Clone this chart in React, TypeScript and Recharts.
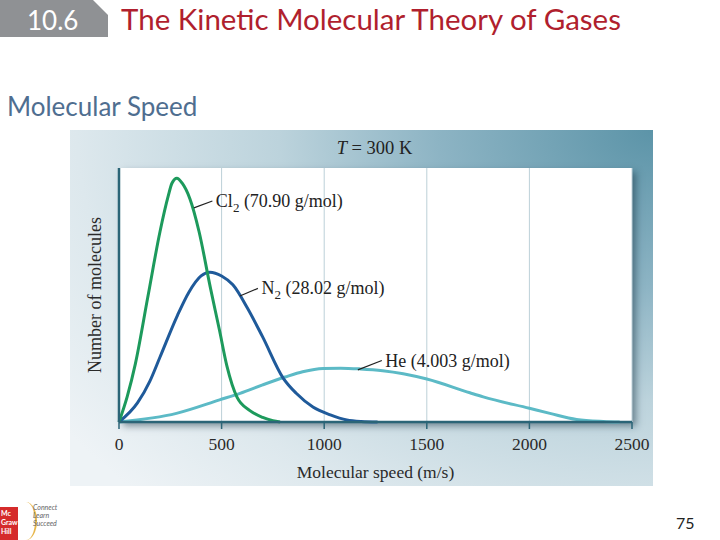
import React from "react";
import { LineChart, Line, XAxis, YAxis, CartesianGrid, ReferenceLine, ReferenceDot } from "recharts";

const speedTicks = [0, 500, 1000, 1500, 2000, 2500];

// Cl2 (70.90 g/mol)
const cl2Speeds = [0, 40, 80, 140, 200, 240, 258, 282, 308, 345, 390, 445, 490, 526, 575, 638, 700, 750, 785];
const cl2Counts = [0, 10, 23, 49, 75, 89, 94, 96, 94, 88, 75, 53, 36, 22, 9.8, 4.5, 1.8, 0.5, 0];

// N2 (28.02 g/mol)
const n2Speeds = [0, 90, 150, 200, 285, 340, 400, 443, 500, 555, 625, 700, 800, 865, 945, 1030, 1110, 1180, 1260];
const n2Counts = [0, 7.5, 16, 25.6, 42, 51, 57.5, 59, 57.5, 54, 45, 33.5, 17.3, 11.2, 5.9, 2.8, 0.8, 0.2, 0];

// He (4.003 g/mol)
const heSpeeds = [0, 280, 490, 590, 700, 810, 895, 995, 1080, 1175, 1285, 1385, 1500, 1710, 1775, 2000, 2100, 2230, 2360, 2440];
const heCounts = [0, 3.4, 8.7, 11.3, 14.6, 17.7, 19.8, 21.1, 21.2, 20.9, 20.2, 19, 16.9, 11.5, 9.9, 5.4, 3.4, 1, 0.2, 0];

const toPoints = (speeds: number[], counts: number[]) =>
  speeds.map((speed, i) => ({ speed, count: counts[i] }));

const cl2Data = toPoints(cl2Speeds, cl2Counts);
const n2Data = toPoints(n2Speeds, n2Counts);
const heData = toPoints(heSpeeds, heCounts);

// leader line from curve to label, label anchor
const annotations = [
  { name: "Cl", sub: "2", rest: " (70.90 g/mol)", from: [365, 84.3], to: [455, 87] },
  { name: "N", sub: "2", rest: " (28.02 g/mol)", from: [589, 49.6], to: [677, 52.6] },
  { name: "He", sub: "", rest: " (4.003 g/mol)", from: [1164, 20.5], to: [1281, 24.2] },
];

const SERIF = "'Liberation Serif', 'DejaVu Serif', serif";
const SANS = "Lato, 'Open Sans', sans-serif";
const AXIS = "#2b6577";

const annotLabel = (name: string, sub: string, rest: string) => (props: any) => {
  const vb = props.viewBox || { x: 0, y: 0, width: 0, height: 0 };
  const x = vb.x + vb.width + 3;
  const y = vb.y + vb.height / 2 + 6;
  return (
    <text x={x} y={y} fontFamily={SERIF} fontSize={18} fill="#222">
      {name}
      {sub ? (
        <tspan dy={5} fontSize={13}>
          {sub}
        </tspan>
      ) : null}
      <tspan dy={sub ? -5 : 0}>{rest}</tspan>
    </text>
  );
};

export default function App() {
  return (
    <div style={{ position: "fixed", left: 0, top: 0, width: 720, height: 540, background: "#fff", overflow: "hidden" }}>
      {/* section tag */}
      <div
        style={{
          position: "absolute", left: 0, top: 0, width: 108, height: 37, background: "#8f9194",
          clipPath: "polygon(0 0, 93px 0, 108px 15px, 108px 100%, 0 100%)",
        }}
      />
      <div style={{ position: "absolute", left: 27, top: 2, fontFamily: SANS, fontSize: 26, color: "#fff", lineHeight: "36px" }}>
        10.6
      </div>
      <div style={{ position: "absolute", left: 121, top: 1, fontFamily: SANS, fontSize: 29.5, color: "#b01f2e", lineHeight: "36px", whiteSpace: "nowrap" }}>
        The Kinetic Molecular Theory of Gases
      </div>
      <div style={{ position: "absolute", left: 7, top: 89, fontFamily: SANS, fontSize: 26, color: "#4f6e90", lineHeight: "34px", whiteSpace: "nowrap" }}>
        Molecular Speed
      </div>

      {/* chart panel */}
      <div
        style={{
          position: "absolute", left: 70, top: 130, width: 583, height: 356,
          background: "radial-gradient(720px 520px at 100% 0%, #5c94a8 0%, #8db4c4 30%, #bcd3dc 52%, #dde8ed 80%, #eef3f6 100%)",
        }}
      >
        <div
          style={{
            position: "absolute", left: 49, top: 38, width: 513, height: 254, background: "#fff",
            boxShadow: "4px 4px 7px rgba(20,50,65,0.5)",
          }}
        />
        <div style={{ position: "absolute", left: 0, top: 8, width: 583, textAlign: "center", fontFamily: SERIF, fontSize: 18.5, color: "#222", paddingLeft: 26, boxSizing: "border-box" }}>
          <i>T</i> = 300 K
        </div>
        <div style={{ position: "absolute", left: 0, top: 0 }}>
          <LineChart width={583} height={356} margin={{ top: 38, right: 21, bottom: 8, left: 1 }}>
            <CartesianGrid horizontal={false} stroke="#bcd0d8" strokeWidth={1} />
            <XAxis
              type="number"
              dataKey="speed"
              domain={[0, 2500]}
              ticks={speedTicks}
              height={56}
              tickSize={7}
              tickMargin={9}
              axisLine={{ stroke: AXIS, strokeWidth: 2.5 }}
              tickLine={{ stroke: AXIS, strokeWidth: 1.5 }}
              tick={{ fill: "#2a2a2a", fontSize: 17.5, fontFamily: SERIF }}
              label={{ value: "Molecular speed (m/s)", position: "insideBottom", offset: 0, fill: "#2a2a2a", fontSize: 17.5, fontFamily: SERIF }}
            />
            <YAxis
              type="number"
              domain={[0, 100]}
              width={48}
              tick={false}
              tickLine={false}
              axisLine={{ stroke: AXIS, strokeWidth: 2.5 }}
              label={{ value: "Number of molecules", angle: -90, position: "center", fill: "#2a2a2a", fontSize: 18, fontFamily: SERIF }}
            />
            <Line data={heData} dataKey="count" type="monotone" stroke="#5cbac6" strokeWidth={3} dot={false} isAnimationActive={false} />
            <Line data={n2Data} dataKey="count" type="monotone" stroke="#1f5a9a" strokeWidth={3} dot={false} isAnimationActive={false} />
            <Line data={cl2Data} dataKey="count" type="monotone" stroke="#1d9a5c" strokeWidth={3} dot={false} isAnimationActive={false} />
            {annotations.map((a) => (
              <ReferenceLine
                key={"l" + a.name}
                segment={[{ x: a.from[0], y: a.from[1] }, { x: a.to[0], y: a.to[1] }]}
                stroke="#222"
                strokeWidth={1.2}
              />
            ))}
            {annotations.map((a) => (
              <ReferenceDot
                key={"d" + a.name}
                x={a.to[0]}
                y={a.to[1]}
                r={0.5}
                fill="none"
                stroke="none"
                label={annotLabel(a.name, a.sub, a.rest)}
              />
            ))}
          </LineChart>
        </div>
      </div>

      {/* publisher logo */}
      <div style={{ position: "absolute", left: 0, top: 507, width: 18, height: 33, background: "#d52b2b", fontFamily: SANS, fontSize: 7, lineHeight: "9px", color: "#fff", fontWeight: 700, padding: "2px 1px", boxSizing: "border-box" }}>
        Mc<br />Graw<br />Hill
      </div>
      <div style={{ position: "absolute", left: 15, top: 502, width: 22, height: 38, borderRadius: "50%", borderRight: "2px solid #e7b64a", boxSizing: "border-box" }} />
      <div style={{ position: "absolute", left: 33, top: 503, fontFamily: SANS, fontStyle: "italic", fontSize: 7, lineHeight: "8px", color: "#666" }}>
        Connect<br />Learn<br />Succeed
      </div>
      <div style={{ position: "absolute", left: 676, top: 513, fontFamily: SANS, fontSize: 16, color: "#222" }}>75</div>
    </div>
  );
}
